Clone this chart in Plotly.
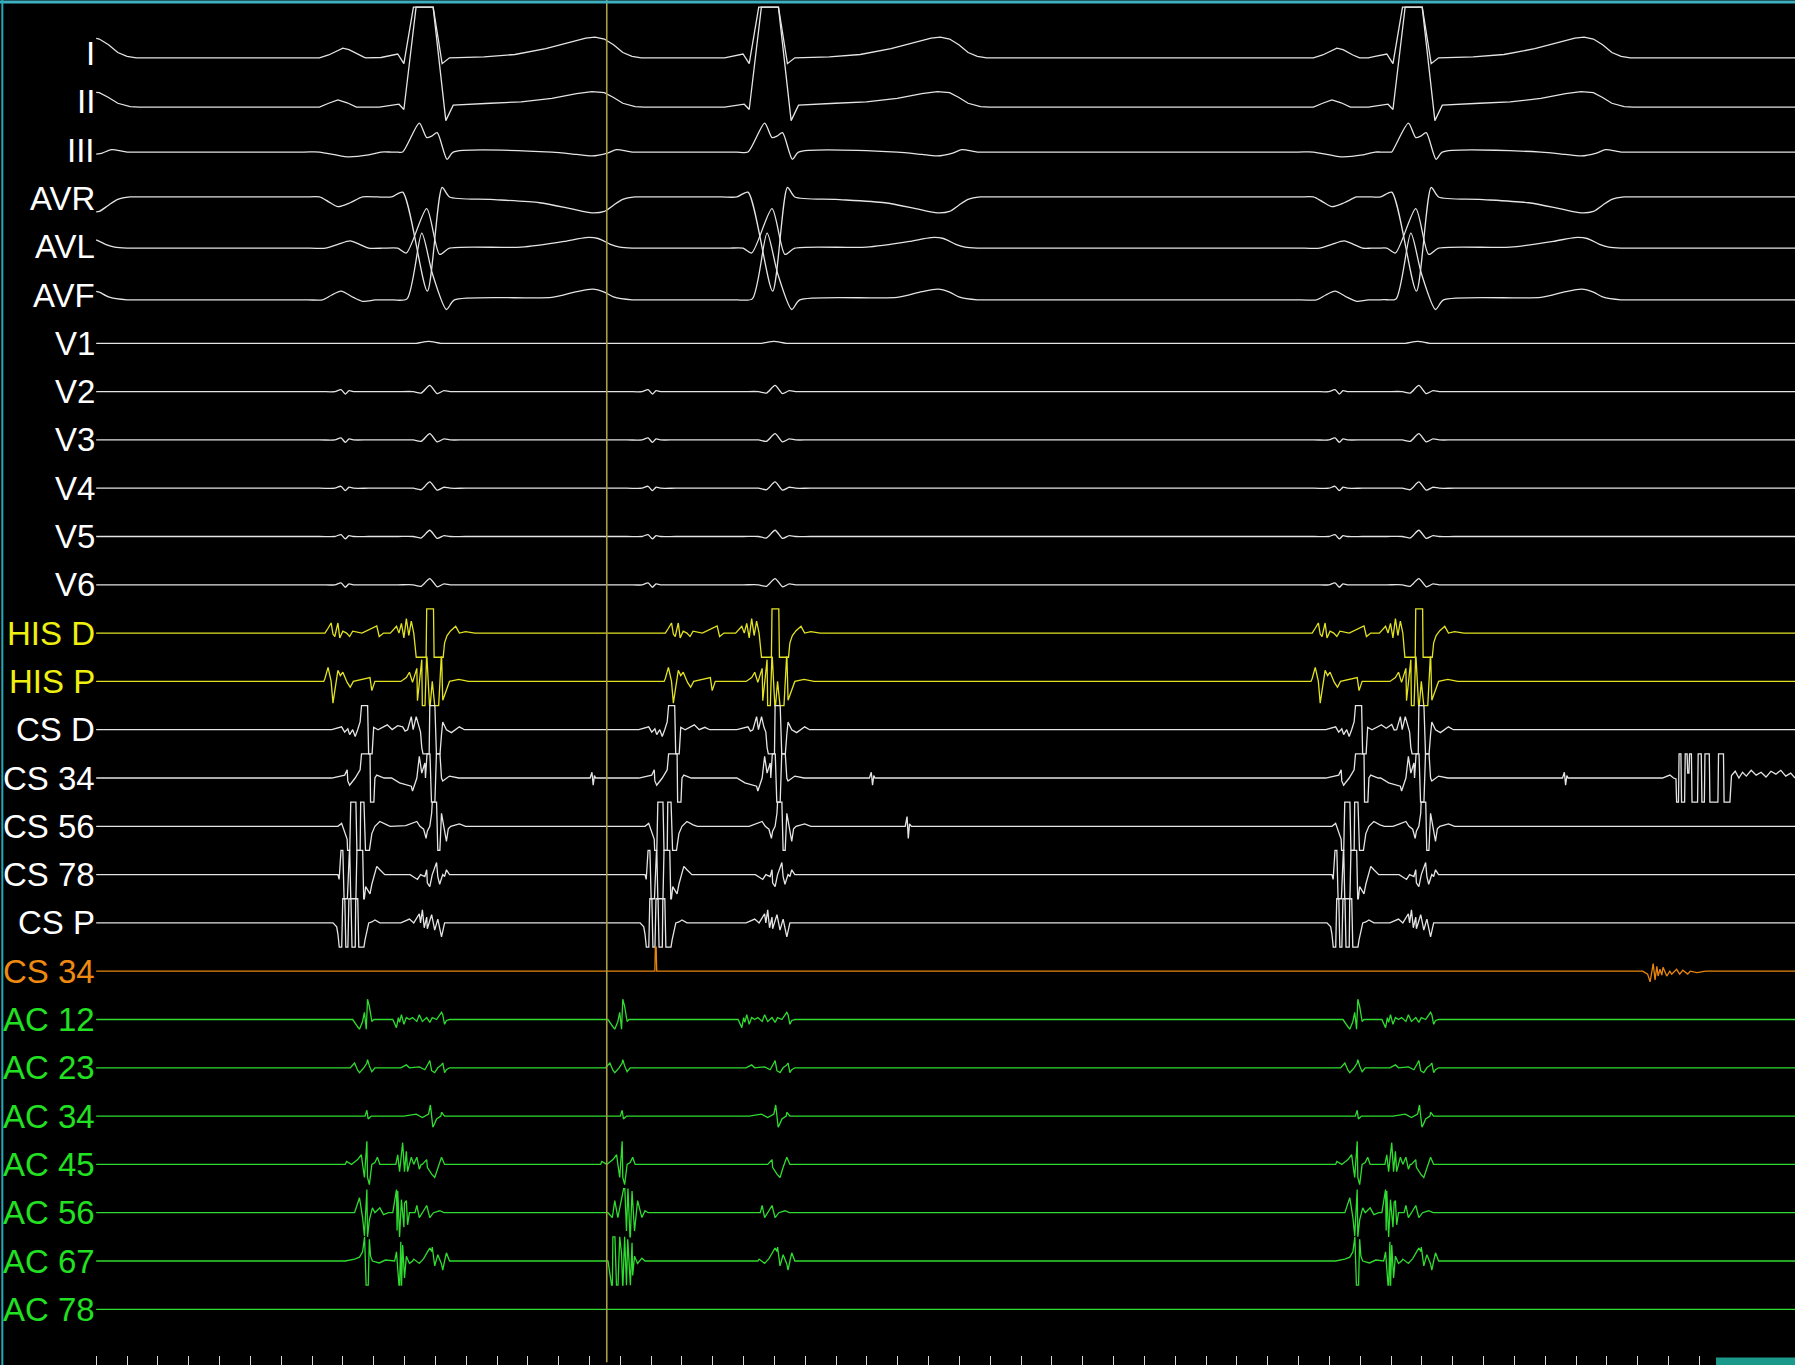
import numpy as np
import plotly.graph_objects as go

# ---------------------------------------------------------------------------
# Channel layout of the recording screen (top to bottom)
# ---------------------------------------------------------------------------
CHANNELS = ["I", "II", "III", "AVR", "AVL", "AVF",
            "V1", "V2", "V3", "V4", "V5", "V6",
            "HIS D", "HIS P",
            "CS D", "CS 34", "CS 56", "CS 78", "CS P",
            "CS 34",
            "AC 12", "AC 23", "AC 34", "AC 45", "AC 56", "AC 67", "AC 78"]
GROUPS = ["surface"] * 12 + ["his"] * 2 + ["cs"] * 5 + ["stim"] + ["ablation"] * 7

LABEL_COLORS = {"surface": "#ffffff", "his": "#f0f010", "cs": "#ffffff",
                "stim": "#ee8a12", "ablation": "#22e022"}
TRACE_COLORS = {"surface": "#e4e4e4", "his": "#e2e222", "cs": "#e4e4e4",
                "stim": "#e8860c", "ablation": "#30dc30"}

# baseline offset of each surface lead (mV, relative to the channel slot)
LEVELS = [-0.09, -0.11, -0.04, 0.03, -0.03, -0.10] + [0.0] * 21

# sweep (ms)
SWEEP_START_MS = -156
SWEEP_END_MS = 2755
TRACE_START_MS = 0
TICK_STEP_MS = 50
TICK_LAST_MS = 2600
CURSOR_MS = 828
FLAT_PAD_MS = 25          # quiet baseline kept on both sides of every complex

# vertical scale: one channel slot = 1 mV, intracardiac channels clipped at +/-0.5
SLOT_TOP = 1.108
SLOT_BOTTOM = -27.153
CLIP_HALF = 0.5
DISPLAY_CEILING = 0.96

# ---------------------------------------------------------------------------
# Activation times (ms)
# ---------------------------------------------------------------------------
QRS_MS = [-280, 539, 1099, 2143]        # ventricular activation (first precedes the sweep)
V_MS = [539, 1099, 2143]                # ventricular activation inside the sweep
V_MS_SINUS = [539, 2143]                # beats preceded by a late atrial activation
P_WAVE_MS = [392, 2004]                 # surface P waves
CS_A_MS = [392, 890, 2004]              # coronary sinus atrial activation
HIS_A_MS = [381, 933, 1982]             # atrial signal on the His catheter
AC_A_MS = [424, 838, 2030]              # atrial signal on the AC catheter
AC_A_MS_SHORT = [424, 2030]
CS34_SPIKE_MS = [805, 1258, 2382]
CS56_SPIKE_MS = [1316]
STIM_MS = [907]

# ---------------------------------------------------------------------------
# Complex shapes: (ms from activation, mV)
# ---------------------------------------------------------------------------
I_QRST = [(-80, 0), (-50, 0.08), (-40, -0.12), (-8, 2.3), (22, -0.12), (34, 0), (90, 0.02),
          (140, 0.07), (190, 0.19), (230, 0.33), (255, 0.41), (270, 0.43), (285, 0.39),
          (300, 0.27), (315, 0.11), (330, 0.03), (345, 0)]
II_QRST = [(-80, 0), (-48, 0.06), (-40, -0.05), (-6, 3.6), (28, -0.28), (40, 0.04), (100, 0.08),
           (150, 0.11), (200, 0.18), (240, 0.28), (265, 0.32), (285, 0.3), (300, 0.2),
           (315, 0.08), (335, 0.01), (350, 0)]
III_QRST = [(-60, 0), (-42, 0), (-15, 0.6), (-3, 0.3), (5, 0.33), (14, 0.4), (30, -0.15), (40, 0),
            (200, 0), (240, -0.05), (265, -0.08), (290, -0.02), (305, 0.05), (330, 0)]
AVR_QRST = [(-60, 0), (-42, 0.1), (-2, -1.95), (22, 0.2), (34, 0), (100, -0.05), (180, -0.12),
            (230, -0.24), (265, -0.33), (285, -0.3), (300, -0.17), (315, -0.05), (335, 0)]
AVL_QRST = [(-50, 0), (-36, -0.1), (-3, 0.82), (18, -0.13), (34, 0), (150, 0.02), (220, 0.14),
            (255, 0.22), (275, 0.2), (295, 0.08), (310, 0.02), (330, 0)]
AVF_QRST = [(-60, 0), (-35, 0.02), (-11, 1.38), (6, 0.55), (29, -0.2), (42, 0), (200, 0.05),
            (240, 0.17), (266, 0.22), (285, 0.16), (300, 0.06), (330, 0)]

I_P = [(-30, 0), (-15, 0.06), (0, 0.16), (8, 0.2), (18, 0.17), (32, 0.07), (45, 0)]
II_P = [(-30, 0), (-15, 0.08), (0, 0.15), (15, 0.09), (30, 0)]
III_P = [(-30, 0), (15, -0.1), (50, -0.06), (70, 0)]
AVR_P = [(-30, 0), (-15, -0.1), (0, -0.2), (20, -0.12), (40, 0)]
AVL_P = [(-20, 0), (0, 0.08), (20, 0.15), (35, 0.08), (50, 0)]
AVF_P = [(-25, 0), (-10, 0.1), (5, 0.18), (25, 0.05), (40, -0.03), (60, 0)]

V1_QRS = [(-20, 0), (0, 0.04), (20, 0)]
PRECORDIAL_QRS = [(-25, 0), (-12, -0.03), (2, 0.13), (14, -0.04), (25, 0.02), (35, 0)]
PRECORDIAL_A = [(-5, 0), (5, 0.04), (12, -0.05), (18, 0.02), (25, 0)]

HISD_A = [(-10, 0), (-5, 0.1), (0, 0.21), (3, -0.02), (6, -0.07), (11, 0.21), (14, -0.1), (19, 0.04),
          (25, 0), (30, -0.07), (35, 0.04), (50, 0), (56, 0.04), (74, 0.15), (78, -0.07), (85, 0)]
HISD_V = [(-62, 0), (-52, 0.14), (-48, 0), (-44, 0.2), (-40, -0.1), (-36, 0.3), (-32, -0.05),
          (-28, 0.25), (-24, 0), (-20, -0.6), (-4, -0.6), (-3, 0.6), (8, 0.6), (9, -0.6), (23, -0.6),
          (26, -0.2), (30, -0.05), (36, 0.05), (44, 0.14), (50, 0), (60, 0.03), (75, 0)]
HISP_A = [(-12, 0), (-10, 0.06), (-5, 0.29), (0, 0), (3, -0.45), (6, -0.19), (11, 0.23), (15, 0.12),
          (19, 0.19), (26, -0.02), (31, -0.12), (36, 0), (52, 0.04), (63, 0.08), (66, -0.19), (71, 0),
          (80, 0)]
HISP_V = [(-45, 0), (-36, 0.08), (-31, 0.19), (-26, -0.02), (-19, 0.27), (-18, -0.4), (-11, 0.45),
          (-10, -0.6), (-6, -0.6), (-3, 0.6), (2, -0.6), (6, 0), (10, -0.6), (16, -0.6), (21, 0.6),
          (23, -0.39), (29, -0.19), (34, 0), (49, 0.04), (65, 0)]

CSD_A = [(-10, 0), (6, 0.06), (11, -0.05), (16, 0.02), (19, -0.1), (24, 0), (28, -0.14), (32, 0),
         (36, 0.16), (39, 0.6), (48, 0.6), (50, -0.6), (55, -0.6), (58, 0.05), (65, 0), (80, 0.1),
         (88, 0), (97, 0.05), (105, 0)]
CSD_V = [(-60, 0), (-42, 0.06), (-38, -0.03), (-34, 0), (-28, 0.27), (-25, 0), (-20, 0.27),
         (-16, 0.05), (-13, -0.05), (-11, -0.37), (-9, -0.6), (1, -0.6), (2, 0.6), (10, 0.6),
         (13, -0.6), (18, -0.6), (21, -0.1), (23, 0.16), (29, 0), (37, -0.06), (50, 0.06), (58, 0)]
CS34_A = [(-10, 0), (11, 0.06), (15, 0.17), (16, -0.06), (19, -0.15), (28, 0), (36, 0.17), (39, 0.6),
          (52, 0.6), (53, -0.6), (58, -0.6), (60, 0), (63, 0.06), (75, 0)]
CS34_V = [(-60, 0), (-47, -0.1), (-28, -0.17), (-26, -0.27), (-19, 0), (-15, 0.45), (-11, 0.1),
          (-6, 0.31), (-5, 0), (-2, 0.6), (2, 0.6), (5, -0.6), (10, -0.6), (13, 0.6), (18, 0.6),
          (21, 0), (23, -0.06), (34, 0.04), (49, 0)]
CS56_A = [(0, 0), (6, 0.06), (11, -0.15), (15, -0.27), (16, -0.6), (19, -0.6), (21, 0.6), (29, 0.6),
          (31, -0.6), (36, -0.6), (37, 0.6), (42, 0.6), (45, -0.6), (50, -0.6), (55, -0.15), (60, 0),
          (68, 0.1), (78, 0.03), (85, 0)]
CS56_V = [(-40, 0), (-19, 0.1), (-14, 0), (-8, -0.06), (-4, -0.25), (-2, -0.1), (2, 0), (5, 0.27),
          (6, 0.6), (13, 0.6), (15, -0.6), (18, -0.6), (21, 0.27), (26, -0.05), (29, -0.31),
          (32, -0.05), (36, 0), (50, 0.05), (60, 0)]
CS78_A = [(0, 0), (2, -0.1), (5, 0.6), (8, 0.6), (10, -0.6), (15, -0.6), (19, 0.6), (21, -0.6),
          (29, -0.6), (31, 0.6), (40, 0.6), (42, -0.6), (45, -0.25), (52, -0.4), (55, -0.2),
          (60, 0.04), (63, 0.17), (68, 0.1), (76, 0)]
CS78_V = [(-30, 0), (-18, -0.1), (-13, 0), (-6, -0.04), (-3, 0.1), (-2, -0.17), (2, -0.25), (6, 0),
          (10, 0.17), (13, 0.25), (15, -0.04), (18, -0.2), (23, 0), (26, -0.04), (29, 0.1), (34, 0),
          (45, 0)]
CSP_A = [(-8, 0), (-2, -0.08), (0, -0.23), (3, -0.6), (6, -0.6), (8, 0.6), (11, 0.6), (13, -0.6),
         (16, -0.6), (18, 0.6), (21, 0.6), (23, -0.6), (28, -0.6), (29, 0.6), (32, 0.6), (34, -0.6),
         (41, -0.6), (44, -0.35), (47, -0.15), (50, 0), (55, 0.02), (60, 0.06), (68, 0)]
CSP_V = [(-45, 0), (-31, 0.08), (-24, 0), (-15, 0.19), (-13, 0), (-10, 0.27), (-7, -0.1), (-3, 0.12),
         (-2, -0.12), (5, 0.17), (10, -0.15), (15, 0.08), (21, -0.29), (26, 0), (35, 0)]
CS_SPIKE = [(-4, 0), (-1, 0.12), (1, -0.15), (3, 0.05), (5, 0)]
CS_SPIKE_LARGE = [(-4, 0), (-1, 0.2), (1, -0.25), (3, 0.05), (6, 0)]

# CS 34 burst near the end of the sweep (absolute ms)
CS34_BURST = [(2540, 0), (2552, 0.06), (2558, 0), (2562, -0.02), (2563, -0.6), (2566, -0.6),
              (2567, 0.6), (2570, 0.6), (2571, -0.6), (2576, -0.6), (2577, 0.6), (2580, 0.6),
              (2581, 0.1), (2583, 0.1), (2584, 0.6), (2587, 0.6), (2588, -0.6), (2597, -0.6),
              (2598, 0.6), (2603, 0.6), (2604, -0.6), (2608, -0.6), (2609, 0.6), (2616, 0.6),
              (2617, -0.6), (2630, -0.6), (2631, 0.6), (2639, 0.6), (2640, -0.6), (2649, -0.6),
              (2652, 0.05), (2658, 0.14), (2664, 0.0), (2670, 0.12), (2676, 0.04), (2684, 0.16),
              (2692, 0.06), (2700, 0.12), (2708, 0.02), (2716, 0.14), (2724, 0.08), (2732, 0.16),
              (2740, 0.04), (2748, 0.1)]

STIM_SPIKE = [(-1, 0), (0, 0.6), (1, 0.6), (2, 0)]
STIM_BURST = [(2508, 0), (2516, -0.06), (2520, -0.22), (2523, 0), (2525, 0.16), (2528, -0.18),
              (2531, 0.1), (2533, -0.1), (2536, 0.04), (2539, -0.08), (2541, 0.08), (2547, -0.1),
              (2552, 0.0), (2555, -0.06), (2563, 0.04), (2568, -0.06), (2573, 0.02), (2581, -0.06),
              (2585, 0.0), (2596, -0.03), (2610, 0)]

AC12_A = [(-8, 0), (0, -0.15), (3, -0.2), (8, -0.04), (11, 0.15), (14, -0.2), (16, 0.42), (19, 0.27),
          (23, -0.04), (26, 0)]
AC12_V = [(-58, 0), (-52, -0.17), (-49, 0.04), (-47, -0.06), (-44, 0.1), (-40, -0.1), (-36, 0.04),
          (-31, 0), (-26, 0.04), (-19, -0.04), (-15, 0.1), (-10, -0.04), (-3, 0.04), (2, -0.06),
          (6, 0.04), (13, 0), (21, 0.15), (23, 0.1), (26, -0.1), (29, -0.02), (34, 0)]
AC23_A = [(-12, 0), (-5, 0.1), (0, -0.05), (3, -0.1), (10, 0), (15, 0.1), (16, 0.17), (19, 0.04),
          (23, -0.08), (28, 0)]
AC23_V = [(-45, 0), (-36, 0.06), (-31, 0), (-15, 0.02), (-6, -0.04), (0, 0.1), (2, 0.15), (5, -0.06),
          (10, -0.1), (15, 0), (21, 0.06), (23, 0.1), (26, -0.1), (29, -0.04), (34, 0)]
AC34_A = [(0, 0), (12, 0.0), (15, 0.12), (17, -0.06), (22, 0)]
AC34_V = [(-40, 0), (-20, 0.04), (-10, -0.03), (0, 0.04), (3, 0.23), (5, 0.0), (7, -0.23), (10, -0.15),
          (13, -0.06), (20, 0), (21, 0.08), (26, 0.0), (35, 0)]
AC45_A = [(-20, 0), (-18, 0.06), (-10, 0), (0, 0.1), (6, 0.2), (8, 0), (11, -0.27), (15, 0.48),
          (16, -0.27), (19, -0.42), (23, 0), (28, 0.04), (32, 0.15), (36, 0), (45, 0)]
# late atrial activity just before the QRS (sinus beats only)
AC45_LATE = [(-56, 0), (-53, 0), (-50, 0.2), (-47, -0.15), (-42, 0.45), (-39, -0.15), (-36, 0.27),
             (-34, -0.15), (-31, 0), (-28, 0.15), (-24, 0), (-19, 0.15), (-15, -0.1), (-12, 0)]
AC45_V = [(-20, 0), (-10, 0), (-3, 0.1), (-2, -0.06), (5, -0.2), (10, -0.27), (15, -0.06), (21, 0.15),
          (26, 0), (34, 0)]
AC56_A = [(-30, 0), (-5, 0), (3, 0.31), (8, -0.1), (11, -0.48), (15, 0.48), (16, -0.5), (19, -0.15),
          (24, 0.1), (28, 0), (36, 0.1), (42, -0.04), (50, 0)]
AC56_LATE = [(-58, 0), (-55, 0.25), (-52, 0.48), (-51, -0.37), (-50, 0.45), (-47, -0.5), (-44, 0.27),
             (-40, -0.3), (-39, 0.2), (-36, 0.25), (-34, -0.25), (-31, 0), (-24, 0)]
AC56_V = [(-22, 0), (-19, 0.15), (-15, -0.1), (-10, 0), (-3, 0.15), (2, -0.1), (8, 0), (18, 0.04),
          (25, 0)]
AC56_BURST = [(830, 0), (837, -0.1), (841, 0.25), (846, -0.1), (852, 0.3), (857, 0.6), (860, -0.38),
              (862, 0.6), (866, -0.6), (869, 0.45), (873, -0.38), (878, 0.25), (885, -0.1),
              (890, 0.04), (895, 0)]
AC67_A = [(-20, 0), (-5, 0.04), (3, 0.08), (8, 0.19), (11, 0.6), (14, -0.6), (17, -0.6), (19, 0.45),
          (21, 0.1), (24, 0), (35, -0.04), (45, 0.02), (55, 0)]
AC67_LATE = [(-55, 0), (-52, 0.19), (-50, -0.3), (-47, -0.6), (-45, 0.4), (-44, -0.6), (-42, 0.33),
             (-39, -0.35), (-36, 0.1), (-31, -0.05), (-26, 0)]
AC67_V = [(-26, 0), (-24, 0.04), (-15, -0.05), (-8, 0.05), (2, 0.27), (5, 0.2), (6, 0.29), (10, -0.1),
          (15, 0.13), (21, -0.06), (23, -0.19), (26, 0), (29, 0.17), (34, 0), (45, 0)]
AC67_BURST = [(830, 0), (837, -0.6), (838, 0.6), (841, 0.6), (844, -0.6), (846, -0.6), (849, 0.5),
              (852, 0.15), (854, -0.6), (857, 0.5), (860, -0.5), (862, 0.45), (866, -0.6),
              (869, 0.38), (870, -0.3), (873, 0.1), (878, -0.05), (885, 0.06), (890, 0)]

# which complexes appear on which channel, and when
CHANNEL_EVENTS = [
    [(I_QRST, QRS_MS), (I_P, P_WAVE_MS)],
    [(II_QRST, QRS_MS), (II_P, P_WAVE_MS)],
    [(III_QRST, QRS_MS), (III_P, P_WAVE_MS)],
    [(AVR_QRST, QRS_MS), (AVR_P, P_WAVE_MS)],
    [(AVL_QRST, QRS_MS), (AVL_P, P_WAVE_MS)],
    [(AVF_QRST, QRS_MS), (AVF_P, P_WAVE_MS)],
    [(V1_QRS, V_MS)],
    [(PRECORDIAL_QRS, V_MS), (PRECORDIAL_A, CS_A_MS)],
    [(PRECORDIAL_QRS, V_MS), (PRECORDIAL_A, CS_A_MS)],
    [(PRECORDIAL_QRS, V_MS), (PRECORDIAL_A, CS_A_MS)],
    [(PRECORDIAL_QRS, V_MS), (PRECORDIAL_A, CS_A_MS)],
    [(PRECORDIAL_QRS, V_MS), (PRECORDIAL_A, CS_A_MS)],
    [(HISD_A, HIS_A_MS), (HISD_V, V_MS)],
    [(HISP_A, HIS_A_MS), (HISP_V, V_MS)],
    [(CSD_A, CS_A_MS), (CSD_V, V_MS)],
    [(CS34_A, CS_A_MS), (CS34_V, V_MS), (CS_SPIKE, CS34_SPIKE_MS), (CS34_BURST, [0])],
    [(CS56_A, CS_A_MS), (CS56_V, V_MS), (CS_SPIKE_LARGE, CS56_SPIKE_MS)],
    [(CS78_A, CS_A_MS), (CS78_V, V_MS)],
    [(CSP_A, CS_A_MS), (CSP_V, V_MS)],
    [(STIM_SPIKE, STIM_MS), (STIM_BURST, [0])],
    [(AC12_A, AC_A_MS), (AC12_V, V_MS)],
    [(AC23_A, AC_A_MS), (AC23_V, V_MS)],
    [(AC34_A, AC_A_MS), (AC34_V, V_MS)],
    [(AC45_A, AC_A_MS), (AC45_LATE, V_MS_SINUS), (AC45_V, V_MS)],
    [(AC56_A, AC_A_MS_SHORT), (AC56_LATE, V_MS_SINUS), (AC56_V, V_MS), (AC56_BURST, [0])],
    [(AC67_A, AC_A_MS_SHORT), (AC67_LATE, V_MS_SINUS), (AC67_V, V_MS), (AC67_BURST, [0])],
    [],
]

# surface leads whose R wave runs off the top of the screen are drawn with straight segments
STRAIGHT_LEADS = {"I", "II"}


def build_channel(events, level):
    """Superimpose the complexes of one channel on its baseline."""
    knots = [TRACE_START_MS, SWEEP_END_MS]
    for shape, times in events:
        off = np.array([p[0] for p in shape], dtype=float)
        for t0 in times:
            knots.extend(off + t0)
            # quiet baseline either side of the complex
            knots.extend([off[0] + t0 - FLAT_PAD_MS, off[-1] + t0 + FLAT_PAD_MS])
    t = np.unique(np.clip(np.array(knots, dtype=float), TRACE_START_MS, SWEEP_END_MS))
    y = np.full(t.shape, level, dtype=float)
    for shape, times in events:
        off = np.array([p[0] for p in shape], dtype=float)
        amp = np.array([p[1] for p in shape], dtype=float)
        for t0 in times:
            y += np.interp(t, off + t0, amp, left=0.0, right=0.0)
    return t, y


def clip_polyline(t, y, lo, hi):
    """Amplifier clipping: flatten the trace at the rails, keeping the crossings."""
    t_out, y_out = [], []
    for i in range(len(t)):
        if i > 0:
            t0, y0, t1, y1 = t[i - 1], y[i - 1], t[i], y[i]
            cross = []
            for b in (lo, hi):
                if (y0 - b) * (y1 - b) < 0:
                    cross.append((t0 + (b - y0) * (t1 - t0) / (y1 - y0), b))
            for ct, cb in sorted(cross):
                t_out.append(ct)
                y_out.append(cb)
        t_out.append(t[i])
        y_out.append(min(max(y[i], lo), hi))
    return np.array(t_out), np.array(y_out)


fig = go.Figure()

for k, name in enumerate(CHANNELS):
    group = GROUPS[k]
    t, y = build_channel(CHANNEL_EVENTS[k], LEVELS[k])
    y = y - k
    if group == "surface":
        lo, hi = -1e9, DISPLAY_CEILING
    else:
        lo, hi = -k - CLIP_HALF, -k + CLIP_HALF
    t, y = clip_polyline(t, y, lo, hi)
    smooth = group == "surface" and name not in STRAIGHT_LEADS
    fig.add_trace(go.Scatter(
        x=t, y=y, mode="lines",
        line=dict(color=TRACE_COLORS[group], width=1.3,
                  shape="spline" if smooth else "linear",
                  smoothing=0.7 if smooth else None),
        hoverinfo="skip", showlegend=False,
    ))
    fig.add_annotation(
        x=0.0541, xref="paper", y=-k, yref="y",
        text=name, showarrow=False, xanchor="right", yanchor="middle",
        font=dict(family="Liberation Sans, Arial, sans-serif", size=33,
                  color=LABEL_COLORS[group]),
    )

# review cursor
fig.add_shape(type="line", xref="x", yref="paper", x0=CURSOR_MS, x1=CURSOR_MS,
              y0=0.002, y1=1.0, line=dict(color="#a89f45", width=1.6))

# window frame
fig.add_shape(type="line", xref="paper", yref="paper", x0=0, x1=1, y0=0.9985, y1=0.9985,
              line=dict(color="#3fb0c0", width=3))
fig.add_shape(type="line", xref="paper", yref="paper", x0=0.0013, x1=0.0013, y0=0, y1=1,
              line=dict(color="#22aabb", width=2))
fig.add_shape(type="rect", xref="paper", yref="paper", x0=0.956, x1=1.0, y0=0.0, y1=0.0055,
              line=dict(width=0), fillcolor="#1b9a8c")

fig.update_layout(
    width=1795, height=1365,
    margin=dict(l=0, r=0, t=0, b=0),
    paper_bgcolor="#000000", plot_bgcolor="#000000",
    xaxis=dict(range=[SWEEP_START_MS, SWEEP_END_MS], showgrid=False, zeroline=False,
               showline=False, showticklabels=False, ticks="inside", ticklen=9,
               tickwidth=1, tickcolor="#d8d8d8",
               tickvals=list(range(0, TICK_LAST_MS + 1, TICK_STEP_MS))),
    yaxis=dict(range=[SLOT_BOTTOM, SLOT_TOP], showgrid=False, zeroline=False,
               showline=False, showticklabels=False, ticks=""),
)

fig.write_html("out.html")
